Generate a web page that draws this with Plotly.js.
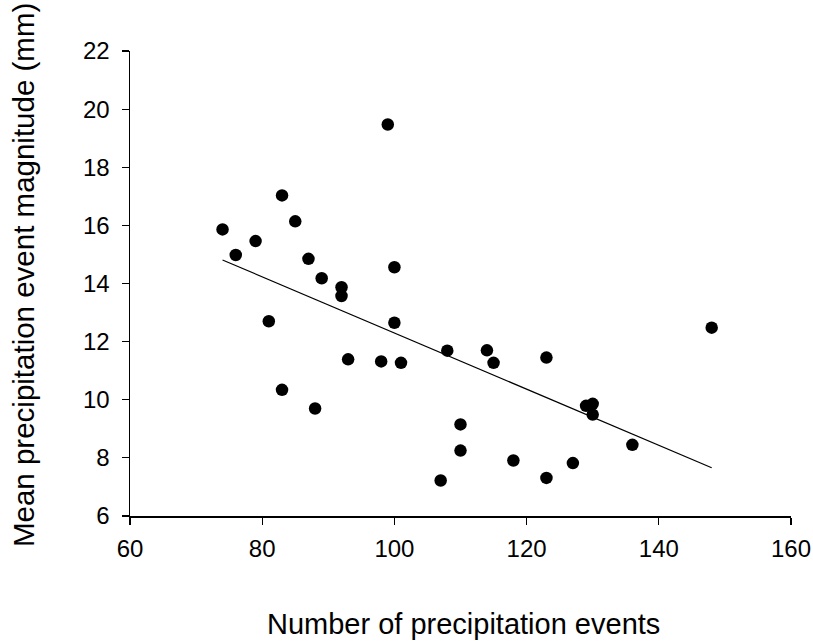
<!DOCTYPE html>
<html>
<head>
<meta charset="utf-8">
<script src="https://cdn.plot.ly/plotly-3.0.1.min.js"></script>
<style>html,body{margin:0;padding:0;background:#fff;}#chart{width:813px;height:641px;}</style>
</head>
<body>
<div id="chart"></div>
<script>
// Observed data: number of precipitation events vs mean event magnitude (mm)
const eventCounts = [74, 76, 79, 81, 83, 83, 85, 87, 88, 89, 92, 92, 93, 98, 99, 100, 100, 101,
  107, 108, 110, 110, 114, 115, 118, 123, 123, 127, 129, 130, 130, 136, 148];
const meanMagnitudes = [15.86, 14.98, 15.46, 12.70, 17.03, 10.34, 16.14, 14.85, 9.70, 14.18, 13.87, 13.57, 11.39, 11.32, 19.47, 14.56, 12.65, 11.27,
  7.22, 11.69, 9.15, 8.25, 11.70, 11.27, 7.91, 11.45, 7.31, 7.82, 9.79, 9.86, 9.49, 8.45, 12.48];
// Regression line end points
const fitX = [74, 148];
const fitY = [14.81, 7.66];
// Axis ticks and titles
const xTicks = [60, 80, 100, 120, 140, 160];
const yTicks = [6, 8, 10, 12, 14, 16, 18, 20, 22];
const xTitle = 'Number of precipitation events';
const yTitle = 'Mean precipitation event magnitude (mm)';

const font = "Liberation Sans, Arial, sans-serif";

const traces = [
  {
    x: eventCounts, y: meanMagnitudes, type: 'scatter', mode: 'markers',
    marker: {color: '#000', size: 12.5, line: {width: 0}},
    showlegend: false, hoverinfo: 'x+y'
  },
  {
    x: fitX, y: fitY, type: 'scatter', mode: 'lines',
    line: {color: '#000', width: 1.2},
    showlegend: false, hoverinfo: 'skip'
  }
];

const layout = {
  width: 813, height: 641,
  margin: {l: 130, r: 22, t: 51, b: 125, pad: 0},
  paper_bgcolor: '#fff', plot_bgcolor: '#fff',
  font: {family: font, color: '#000', size: 24},
  showlegend: false,
  xaxis: {
    range: [60, 160], tickvals: xTicks, ticktext: xTicks.map(String),
    showgrid: false, zeroline: false,
    showline: true, linecolor: '#000', linewidth: 1.5,
    ticks: 'outside', ticklen: 7, tickwidth: 1.2, tickcolor: '#000',
    ticklabelstandoff: 4,
    tickfont: {family: font, size: 24, color: '#000'}
  },
  yaxis: {
    range: [6, 22], tickvals: yTicks, ticktext: yTicks.map(String),
    showgrid: false, zeroline: false,
    showline: true, linecolor: '#000', linewidth: 1.5,
    ticks: 'outside', ticklen: 7, tickwidth: 1.2, tickcolor: '#000',
    ticklabelstandoff: 7,
    tickfont: {family: font, size: 24, color: '#000'}
  },
  annotations: [
    {text: xTitle, xref: 'paper', yref: 'paper', x: 0.5045, y: -0.233,
     xanchor: 'center', yanchor: 'middle', showarrow: false,
     font: {family: font, size: 29, color: '#000'}},
    {text: yTitle, xref: 'paper', yref: 'paper', x: -0.162, y: 0.518,
     xanchor: 'center', yanchor: 'middle', showarrow: false, textangle: -90,
     font: {family: font, size: 29.5, color: '#000'}}
  ]
};

Plotly.newPlot('chart', traces, layout, {displayModeBar: false, staticPlot: true});
</script>
</body>
</html>
